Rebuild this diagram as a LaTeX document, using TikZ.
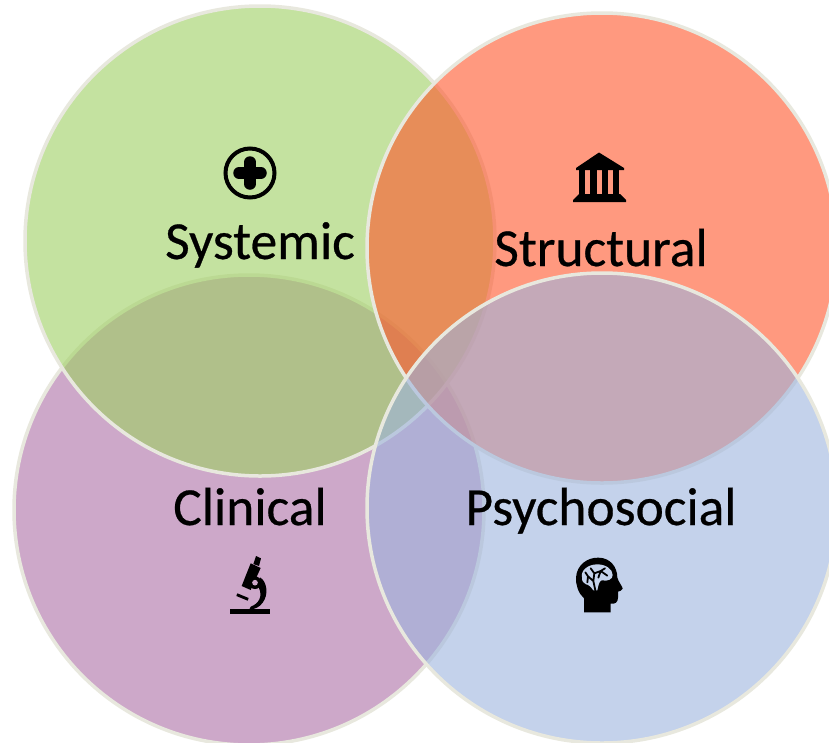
\documentclass[tikz,border=0pt]{standalone}
\usepackage{fontspec}
\setmainfont[FakeBold=0.25]{Carlito}
\setmainfont{Carlito}
\newfontfamily\labelfont[RawFeature={embolden=0.5}]{Carlito}
\definecolor{cgreen}{RGB}{158,208,97}
\definecolor{cred}{RGB}{255,85,43}
\definecolor{cpurple}{RGB}{172,110,165}
\definecolor{cblue}{RGB}{157,180,222}
\definecolor{cedge}{RGB}{232,232,222}
\definecolor{bgblue}{RGB}{196,210,235}
\definecolor{bgpurple}{RGB}{205,168,201}
\tikzset{
  x=1pt,y=-1pt,
  venn/.style={circle,minimum size=470pt,inner sep=0pt,draw=cedge,line width=3.5pt,fill opacity=.6,draw opacity=1},
  label/.style={font=\labelfont\fontsize{53.5}{54}\selectfont,text=black,inner sep=0pt,anchor=base},
  icon/.style={fill=black,draw=none}
}
\begin{document}
\begin{tikzpicture}
\path[use as bounding box] (0,0) rectangle (829,742);
\clip (0,0) rectangle (829,742);
\fill[white] (0,0) rectangle (829,742);
\node[venn,fill=cpurple] (clinical) at (249,510) {};
\node[venn,fill=cgreen] (systemic) at (260,241) {};
\node[venn,fill=cred] (structural) at (602,248) {};
\node[venn,fill=cblue] (psychosocial) at (602,508) {};
\node[label] (tsys) at (260,259) {Systemic};
\node[label] (tstr) at (601,266) {Structural};
\node[label] (tcli) at (250,525) {Clinical};
\node[label] (tpsy) at (601,525) {Psychosocial};
% plus icon
\draw[black,line width=4pt] (250,173) circle (24.5);
\draw[black,line width=11.5pt,line cap=round] (250,162) -- (250,184) (239,173) -- (261,173);
% temple icon
\fill[icon] (599,152.5) -- (624,168) -- (624,170) -- (576,170) -- (576,168) -- cycle;
\fill[icon] (579,170) rectangle (585,195);
\fill[icon] (590,170) rectangle (596.5,195);
\fill[icon] (602,170) rectangle (608,195);
\fill[icon] (613,170) rectangle (619,195);
\fill[icon] (579,194) -- (620,194) -- (626,200) -- (626,202) -- (573,202) -- (573,200) -- cycle;
% microscope icon
\begin{scope}[shift={(210,540)},x=.3333pt,y=-.3333pt]
\fill[icon] (60,207) rectangle (179,222);
\fill[icon] (138,48) -- (153,55) -- (147,78) -- (130,72) -- cycle;
\fill[icon] (122,70) -- (152,84) -- (122,150) -- (95,138) -- cycle;
\fill[icon] (82,160) -- (116,174) -- (113,182) -- (79,168) -- cycle;
\fill[icon] (150,112) .. controls (172,125) and (176,165) .. (158,188) .. controls (150,200) and (135,208) .. (118,209) -- (122,200) .. controls (145,192) and (160,170) .. (146,142) -- cycle;
\fill[icon] (135,128) circle (19);
\fill[bgpurple] (135,128) circle (8.5);
\end{scope}
% head icon
\begin{scope}[shift={(560,545)},x=.3333pt,y=-.3333pt]
\fill[icon] (72,202) -- (72,160) .. controls (55,145) and (47,120) .. (48,98) .. controls (50,60) and (82,37) .. (115,38) .. controls (150,38) and (172,65) .. (172,98) .. controls (176,112) and (188,125) .. (188,131) .. controls (188,137) and (178,138) .. (174,140) -- (174,158) .. controls (174,172) and (165,178) .. (152,176) -- (152,202) -- cycle;
\fill[bgblue] (66,96) .. controls (62,75) and (85,58) .. (112,58) .. controls (137,58) and (158,72) .. (158,90) .. controls (158,102) and (145,110) .. (125,106) .. controls (117,108) and (115,122) .. (112,136) -- (100,136) .. controls (92,125) and (85,118) .. (78,118) .. controls (70,115) and (65,108) .. (66,96) -- cycle;
\draw[black,line width=1.8pt,line cap=round] (106,136) -- (100,108) -- (84,94) (100,108) -- (103,85) -- (92,70) (103,85) -- (122,78) -- (135,70) (122,78) -- (142,92) (115,98) -- (122,78) (84,94) -- (76,82) (84,94) -- (82,112);
\end{scope}
\end{tikzpicture}
\end{document}
